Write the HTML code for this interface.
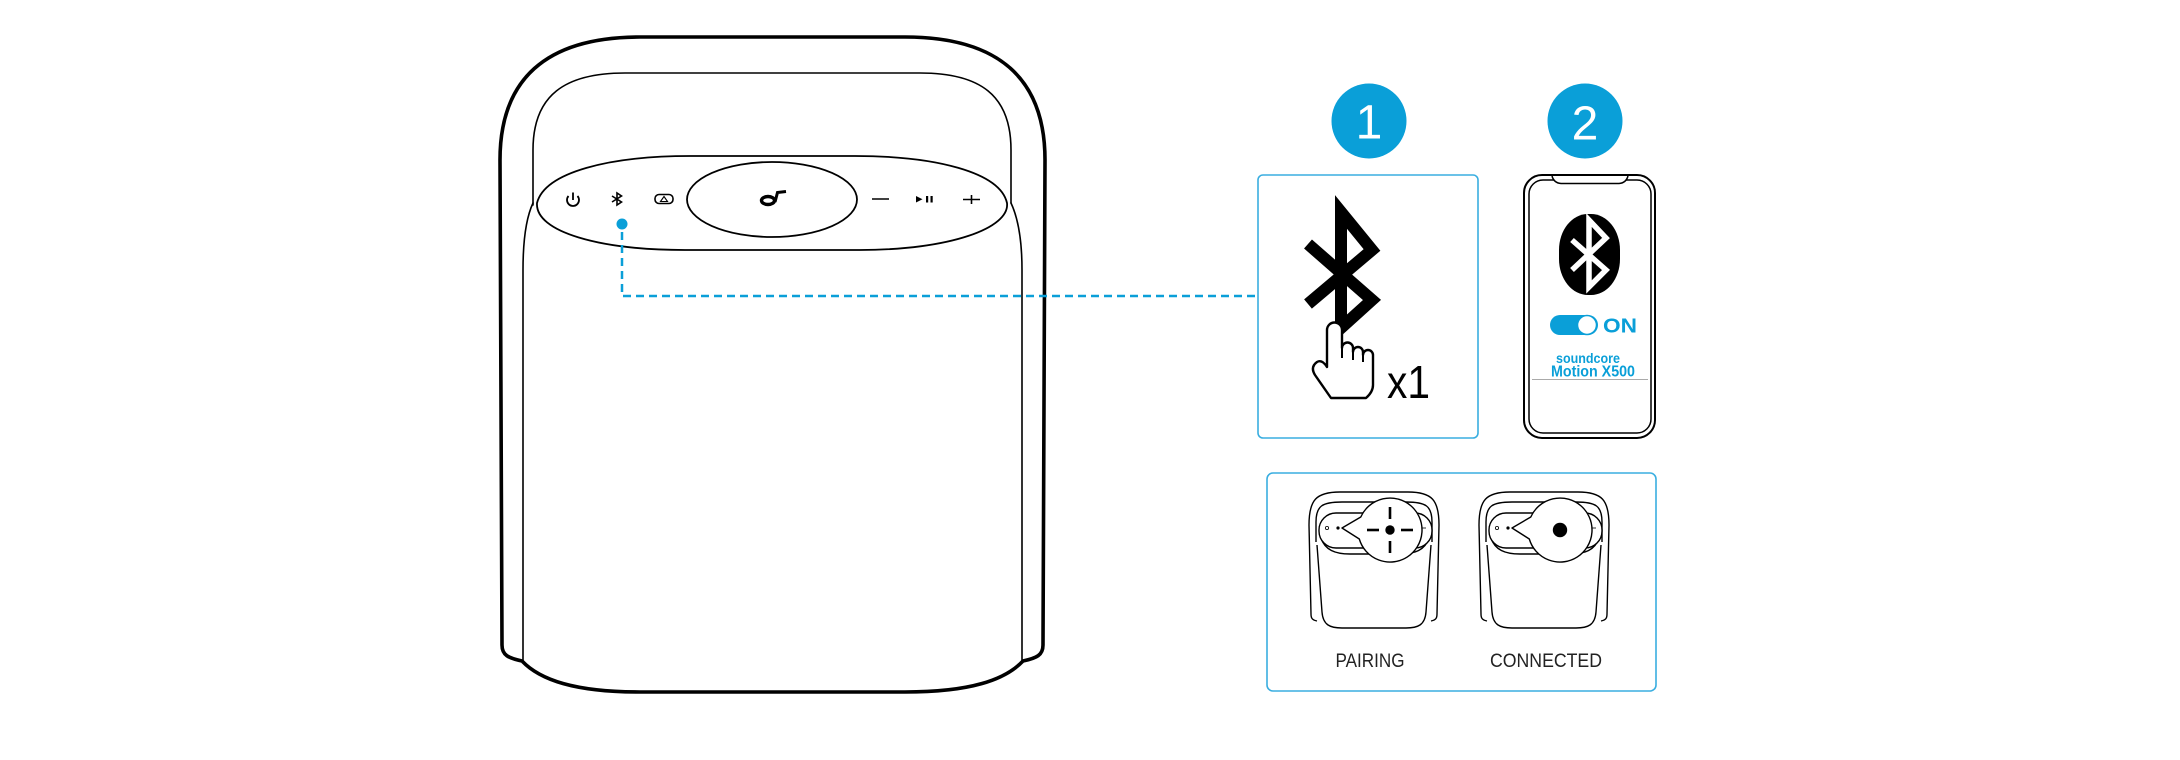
<!DOCTYPE html>
<html>
<head>
<meta charset="utf-8">
<style>
html,body{margin:0;padding:0;background:#fff;}
svg{display:block;}
text{font-family:"Liberation Sans",sans-serif;}
</style>
</head>
<body>
<svg width="2180" height="760" viewBox="0 0 2180 760" xmlns="http://www.w3.org/2000/svg">
<rect width="2180" height="760" fill="#fff"/>

<!-- ===== Main speaker ===== -->
<g fill="none" stroke="#000" stroke-linecap="round" stroke-linejoin="round">
  <!-- outer silhouette -->
  <path d="M502,645 L500,160 C500,80 545,37 640,37 L905,37 C1000,37 1045,80 1045,160 L1043,645 C1043,655 1037,658 1023,661 C1005,680 970,692 905,692 L640,692 C575,692 540,680 522,661 C508,658 502,655 502,645 Z" stroke-width="3.6"/>
  <!-- inner handle -->
  <path d="M533,205 L533,150 C533,95 565,73 625,73 L920,73 C980,73 1011,95 1011,150 L1011,203" stroke-width="1.6"/>
  <!-- body lines -->
  <path d="M533,203 C526,218 523,240 523,270 L523,661" stroke-width="1.6"/>
  <path d="M1011,203 C1018,218 1022,240 1022,270 L1022,661" stroke-width="1.6"/>
  <!-- top panel -->
  <path d="M537,203 C545,172 610,156 690,156 L855,156 C935,156 1000,172 1007,203 C1010,228 950,250 860,250 L685,250 C600,250 535,232 537,203 Z" fill="#fff" stroke-width="1.8"/>
  <!-- center oval -->
  <ellipse cx="772" cy="199.5" rx="85" ry="37.5" stroke-width="1.8"/>
</g>

<!-- panel icons -->
<g fill="none" stroke="#000" stroke-linecap="butt">
  <!-- power -->
  <path d="M568.5,196 A6,6 0 1 0 577.5,196" stroke-width="1.8"/>
  <line x1="573" y1="192.5" x2="573" y2="200" stroke-width="1.8"/>
  <!-- bluetooth small -->
  <path d="M612,196 L621.5,202 L617,205 L617,193 L621.5,196 L612,202" stroke-width="1.6" stroke-linejoin="miter"/>
  <!-- mode -->
  <rect x="655" y="194.5" width="18" height="9" rx="4" stroke-width="1.6"/>
  <path d="M660.5,201.5 L664,196.5 L667.5,201.5 Z" stroke-width="1.1"/>
  <!-- soundcore logo -->
  <ellipse cx="768" cy="200.5" rx="6.5" ry="4" stroke-width="3.4"/>
  <path d="M775,202 L777.5,192.5 L786,191.5" stroke-width="3"/>
  <!-- minus -->
  <line x1="872" y1="199" x2="889" y2="199" stroke-width="1.6"/>
  <!-- plus -->
  <line x1="963" y1="199.5" x2="980" y2="199.5" stroke-width="1.6"/>
  <line x1="971.5" y1="195" x2="971.5" y2="204" stroke-width="1.6"/>
</g>
<g fill="#000">
  <polygon points="916,196 916,202.5 922.5,199.2"/>
  <rect x="926" y="196" width="2.2" height="6.5"/>
  <rect x="930.5" y="196" width="2.2" height="6.5"/>
</g>

<!-- blue connector -->
<circle cx="622" cy="224" r="5.5" fill="#0a9fd8"/>
<path d="M622,232 L622,296 L1258,296" fill="none" stroke="#0a9fd8" stroke-width="2.5" stroke-dasharray="8 5"/>

<!-- ===== Step numbers ===== -->
<circle cx="1369" cy="121" r="37.5" fill="#0a9fd8"/>
<text x="1369" y="138.5" font-size="48" fill="#fff" text-anchor="middle">1</text>
<circle cx="1585" cy="121" r="37.5" fill="#0a9fd8"/>
<text x="1585" y="139.5" font-size="48" fill="#fff" text-anchor="middle">2</text>

<!-- ===== Box 1 ===== -->
<rect x="1258" y="175" width="220" height="263" rx="5" fill="none" stroke="#3aaee0" stroke-width="1.6"/>
<path d="M1308,244 L1372,300 L1341,328 L1341,212 L1372,250 L1308,304" fill="none" stroke="#000" stroke-width="12" stroke-linejoin="miter" stroke-miterlimit="6"/>
<!-- hand -->
<path d="M1327,367 L1327,330 A7.5,7.5 0 0 1 1342,330 L1342,348 A5.5,5.5 0 0 1 1353,348 L1353,352 A5,5 0 0 1 1363,352 L1363,355 A5,5 0 0 1 1373,355 L1373,385 Q1373,392 1366,398 L1331,398 L1315,375 Q1310,367 1317,362 Q1322,359 1327,367 Z" fill="#fff" stroke="#000" stroke-width="2.4" stroke-linejoin="round"/>
<g stroke="#000" stroke-width="2" fill="none">
  <line x1="1342" y1="346" x2="1342" y2="358"/>
  <line x1="1353" y1="350" x2="1353" y2="360"/>
  <line x1="1363" y1="353" x2="1363" y2="362"/>
</g>
<text x="1387" y="398" font-size="46" fill="#000" textLength="43" lengthAdjust="spacingAndGlyphs">x1</text>

<!-- ===== Phone ===== -->
<rect x="1524" y="175" width="131" height="263" rx="18" fill="none" stroke="#000" stroke-width="2"/>
<rect x="1529" y="180" width="122" height="253" rx="14" fill="none" stroke="#000" stroke-width="1.5"/>
<path d="M1552,176 Q1554,183 1561,183.5 L1619,183.5 Q1626,183 1628,176" fill="#fff" stroke="#000" stroke-width="1.5"/>
<rect x="1559" y="214" width="61" height="81" rx="29" ry="36" fill="#000"/>
<path d="M1572,240 L1606,270 L1589,287 L1589,220 L1606,238 L1572,270" fill="none" stroke="#fff" stroke-width="5.5" stroke-linejoin="miter"/>
<rect x="1550" y="315" width="48" height="20" rx="10" fill="#0a9fd8"/>
<circle cx="1587" cy="325" r="9.5" fill="#fff" stroke="#0a9fd8" stroke-width="1.5"/>
<text x="1603" y="332.5" font-size="20.5" font-weight="bold" fill="#0a9fd8" textLength="34" lengthAdjust="spacingAndGlyphs">ON</text>
<text x="1556" y="363" font-size="14" font-weight="bold" fill="#0a9fd8" textLength="64" lengthAdjust="spacingAndGlyphs">soundcore</text>
<text x="1551" y="376.5" font-size="15.5" font-weight="bold" fill="#0a9fd8" textLength="84" lengthAdjust="spacingAndGlyphs">Motion X500</text>
<line x1="1532" y1="379.5" x2="1648" y2="379.5" stroke="#aaa" stroke-width="1"/>

<!-- ===== Bottom box ===== -->
<rect x="1267" y="473" width="389" height="218" rx="6" fill="none" stroke="#3aaee0" stroke-width="1.6"/>

<g id="mini">
  <g fill="none" stroke="#000" stroke-width="1.4" stroke-linejoin="round">
    <path d="M1317,621 C1312,620 1311,618 1311,614 L1309,525 C1309,500 1316,492 1340,492 L1408,492 C1432,492 1439,500 1439,525 L1437,614 C1437,618 1436,620 1431,621"/>
    <path d="M1316,542 L1316,522 C1316,506 1322,502 1342,502 L1406,502 C1426,502 1432,506 1432,522 L1432,542"/>
    <path d="M1317,545 L1322,612 C1323,625 1330,628 1342,628 L1406,628 C1418,628 1425,625 1426,612 L1431,545"/>
    <path d="M1321,538 C1325,550 1335,554 1350,554 L1400,554 C1415,554 1425,550 1429,538"/>
    <rect x="1319" y="513" width="113" height="35" rx="17" fill="#fff"/>
    <circle cx="1327" cy="528" r="1.6" stroke-width="0.8"/>
    <line x1="1420" y1="528" x2="1426" y2="528" stroke-width="0.8"/>
    <path d="M1360.8,517 L1342,528 L1359.3,539 A32,32 0 1 0 1360.8,517 Z" fill="#fff"/>
  </g>
  <circle cx="1338" cy="528" r="1.6" fill="#000"/>
</g>
<use href="#mini" transform="translate(170,0)"/>

<!-- pairing indicator -->
<g stroke="#000" stroke-width="2.6">
  <line x1="1367" y1="530" x2="1379" y2="530"/>
  <line x1="1401" y1="530" x2="1413" y2="530"/>
  <line x1="1390" y1="507" x2="1390" y2="519"/>
  <line x1="1390" y1="541" x2="1390" y2="553"/>
</g>
<circle cx="1390" cy="530" r="4.7" fill="#000"/>
<!-- connected indicator -->
<circle cx="1560" cy="530" r="7.2" fill="#000"/>

<text x="1370" y="667" font-size="19" fill="#222" text-anchor="middle" textLength="69" lengthAdjust="spacingAndGlyphs">PAIRING</text>
<text x="1546" y="667" font-size="19" fill="#222" text-anchor="middle" textLength="112" lengthAdjust="spacingAndGlyphs">CONNECTED</text>
</svg>
</body>
</html>
